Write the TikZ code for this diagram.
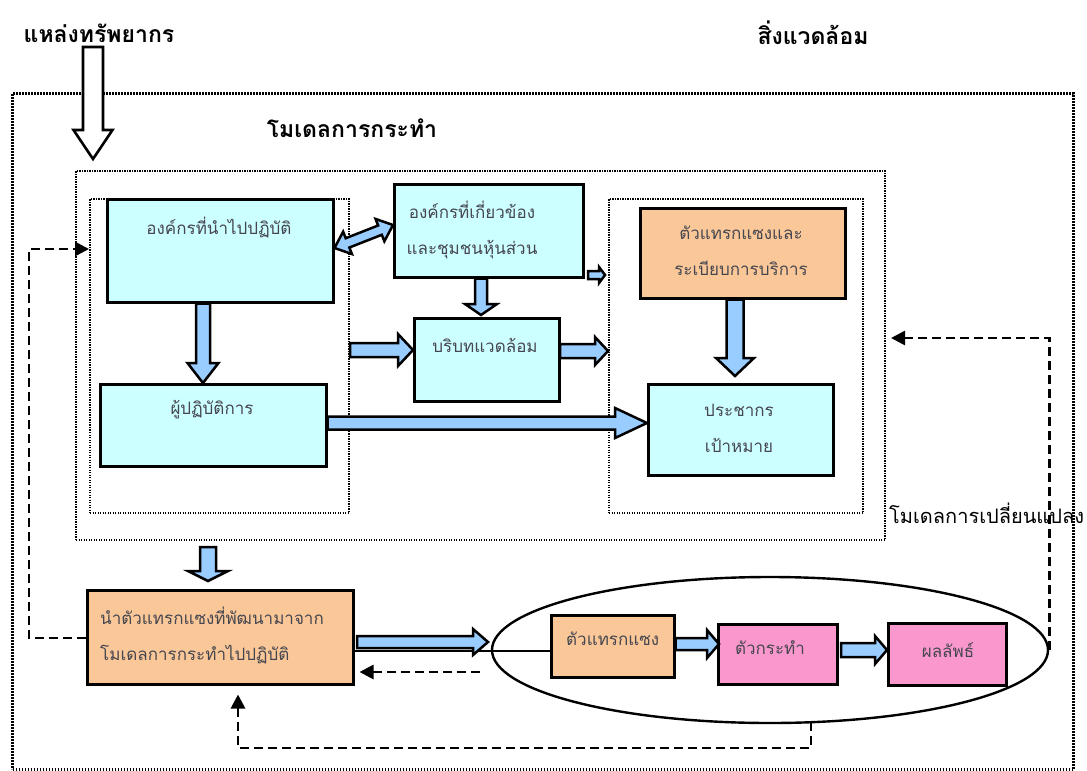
\documentclass[tikz,border=0pt]{standalone}
\usepackage{fontspec}
\newfontfamily\thai[Script=Thai]{Loma}
\usetikzlibrary{calc,arrows.meta,shapes.geometric}
\definecolor{cyanbox}{RGB}{204,255,255}
\definecolor{peach}{RGB}{250,200,152}
\definecolor{pinkbox}{RGB}{250,152,205}
\definecolor{arrblue}{RGB}{153,204,255}
\definecolor{boxtext}{RGB}{70,70,80}
\tikzset{
  barr/.style={draw=black, fill=arrblue, line width=2.5pt, line join=miter},
  hollow/.style={draw=black, fill=white, line width=2.6pt, line join=miter},
  bx/.style={draw=black, line width=2.5pt, anchor=north west, inner sep=0, fill=cyanbox},
  dotbig/.style={draw=black, line width=3pt, dash pattern=on 1.6pt off 1.4pt, anchor=north west, inner sep=0},
  dotsmall/.style={draw=black, line width=2pt, dash pattern=on 1.3pt off 1.2pt, anchor=north west, inner sep=0},
  dline/.style={draw=black, line width=2.7pt, dash pattern=on 9pt off 5pt, -{Triangle[length=14pt,width=14pt]}},
  tx/.style={font=\thai\fontsize{17}{36}\selectfont, text=boxtext, inner sep=0, align=center},
  title/.style={font=\thai\bfseries\fontsize{23}{26}\selectfont, text=black, inner sep=0},
}
\newcommand\blockarr[6][]{%
  \coordinate (bah) at ($(#3)!#6!(#2)$);
  \draw[barr,#1] ($(#2)!#4!90:(#3)$) -- ($(bah)!#4!90:(#3)$) -- ($(bah)!#5!90:(#3)$) -- (#3)
    -- ($(bah)!#5!-90:(#3)$) -- ($(bah)!#4!-90:(#3)$) -- ($(#2)!#4!-90:(#3)$) -- cycle;}
\newcommand\dblarr[6][]{%
  \coordinate (dah1) at ($(#2)!#6!(#3)$);
  \coordinate (dah2) at ($(#3)!#6!(#2)$);
  \draw[barr,#1] (#2) -- ($(dah1)!#5!90:(#3)$) -- ($(dah1)!#4!90:(#3)$) -- ($(dah2)!#4!90:(#3)$)
    -- ($(dah2)!#5!90:(#3)$) -- (#3) -- ($(dah2)!#5!-90:(#3)$) -- ($(dah2)!#4!-90:(#3)$)
    -- ($(dah1)!#4!-90:(#3)$) -- ($(dah1)!#5!-90:(#3)$) -- cycle;}
\begin{document}
\begin{tikzpicture}[x=1pt,y=-1pt]
\useasboundingbox[fill=white] (0,0) rectangle (1087,771);
% frames
\node[dotbig, minimum width=1061pt, minimum height=676pt] (env) at (11,92) {};
\node[dotsmall, minimum width=809pt, minimum height=369pt] (act) at (75,170) {};
\node[dotsmall, minimum width=259pt, minimum height=314pt] (lcol) at (89,198) {};
\node[dotsmall, minimum width=254pt, minimum height=314pt] (rcol) at (608,198) {};
% ellipse
\node[draw, ellipse, line width=2.4pt, minimum width=556pt, minimum height=146pt, inner sep=0] (ell) at (770,650) {};
% boxes
\node[bx, minimum width=226pt, minimum height=103pt] (org) at (106,198) {};
\node[bx, minimum width=226pt, minimum height=82pt] (opr) at (99,383) {};
\node[bx, minimum width=189pt, minimum height=93pt] (org2) at (393,183) {};
\node[bx, minimum width=145pt, minimum height=83pt] (ctx) at (413,317) {};
\node[bx, fill=peach, minimum width=205pt, minimum height=90pt] (svc) at (639,207) {};
\node[bx, minimum width=185pt, minimum height=91pt] (prc) at (647,383) {};
\node[bx, fill=peach, minimum width=266pt, minimum height=94pt] (impl) at (86,589) {};
\node[bx, fill=peach, minimum width=123pt, minimum height=62pt] (intv) at (550,614) {};
\node[bx, fill=pinkbox, minimum width=119pt, minimum height=60pt] (actor) at (717,623) {};
\node[bx, fill=pinkbox, minimum width=118pt, minimum height=62pt] (res) at (887,622) {};
% thin line through the ellipse
\draw[line width=1.6pt] (impl.east |- 0,651) -- (intv.west |- 0,651);
% texts
\node[tx] (torg) at (219,227) {องค์กรที่นำไปปฏิบัติ};
\node[tx] (topr) at (212,410) {ผู้ปฏิบัติการ};
\node[tx] (torg2) at (472,230) {องค์กรที่เกี่ยวข้อง\\และชุมชนหุ้นส่วน};
\node[tx] (tctx) at (485,345) {บริบทแวดล้อม};
\node[tx] (tsvc) at (741,251) {ตัวแทรกแซงและ\\ระเบียบการบริการ};
\node[tx] (tprc) at (739,428) {ประชากร\\เป้าหมาย};
\node[tx, align=left, anchor=west] (timpl) at (100,635) {นำตัวแทรกแซงที่พัฒนามาจาก\\โมเดลการกระทำไปปฏิบัติ};
\node[tx, anchor=west] (tintv) at (566,639) {ตัวแทรกแซง};
\node[tx] (tactor) at (770,648) {ตัวกระทำ};
\node[tx] (tres) at (948,650) {ผลลัพธ์};
\node[title] (t1) at (99,33) {แหล่งทรัพยากร};
\node[title] (t2) at (813,33) {สิ่งแวดล้อม};
\node[title] (t3) at (352,128) {โมเดลการกระทำ};
\node[font=\thai\fontsize{20}{22}\selectfont, inner sep=0, anchor=west] (t4) at (889,513) {โมเดลการเปลี่ยนแปลง};
% block arrows
\coordinate (h1) at (93,47); \coordinate (h2) at (93,159);
\blockarr[hollow]{h1}{h2}{10pt}{19.5pt}{29pt}
\coordinate (a1s) at (org.south -| 203,0); \coordinate (a1e) at (opr.north -| 203,0);
\blockarr{a1s}{a1e}{7pt}{15.5pt}{20pt}
\coordinate (a2s) at (org.east |- 0,248); \coordinate (a2e) at (org2.west |- 0,225);
\dblarr{a2s}{a2e}{5pt}{12pt}{14pt}
\coordinate (a3s) at (org2.south -| 481,0); \coordinate (a3e) at (481,315);
\blockarr{a3s}{a3e}{6pt}{16pt}{11pt}
\coordinate (a4s) at (588,275); \coordinate (a4e) at (605,275);
\blockarr{a4s}{a4e}{4pt}{8pt}{6pt}
\coordinate (a5s) at (lcol.east |- 0,350); \coordinate (a5e) at (ctx.west |- 0,350);
\blockarr{a5s}{a5e}{7pt}{16pt}{15pt}
\coordinate (a6s) at (560,351); \coordinate (a6e) at (rcol.west |- 0,351);
\blockarr{a6s}{a6e}{7pt}{14pt}{13pt}
\coordinate (a7s) at (opr.east |- 0,423); \coordinate (a7e) at (prc.west |- 0,423);
\blockarr{a7s}{a7e}{6.5pt}{15pt}{32pt}
\coordinate (a8s) at (svc.south -| 735,0); \coordinate (a8e) at (735,376);
\blockarr{a8s}{a8e}{8.5pt}{19pt}{18pt}
\coordinate (a9s) at (208,547); \coordinate (a9e) at (208,581);
\blockarr{a9s}{a9e}{8pt}{20pt}{10pt}
\coordinate (a10s) at (357,642); \coordinate (a10e) at (488,642);
\blockarr{a10s}{a10e}{6pt}{13pt}{15pt}
\coordinate (a11s) at (intv.east |- 0,644); \coordinate (a11e) at (719,644);
\blockarr{a11s}{a11e}{6pt}{14pt}{12pt}
\coordinate (a12s) at (841,650); \coordinate (a12e) at (res.west |- 0,650);
\blockarr{a12s}{a12e}{7pt}{14pt}{12pt}
% dashed feedback lines
\draw[dline] (impl.west |- 0,638) -- (29,638) |- (lcol.west |- 0,249);
\draw[dline, shorten >=5pt] (ell.east) |- (act.east |- 0,338);
\coordinate (ellb) at ($(ell.center)+(41,72)$);
\draw[dline, shorten >=9pt] (ellb) -- (811,748) -| (impl.south -| 238,0);
\coordinate (d4s) at (480,672);
\draw[dline, shorten >=5pt] (d4s) -- (impl.east |- 0,672);
\end{tikzpicture}
\end{document}
